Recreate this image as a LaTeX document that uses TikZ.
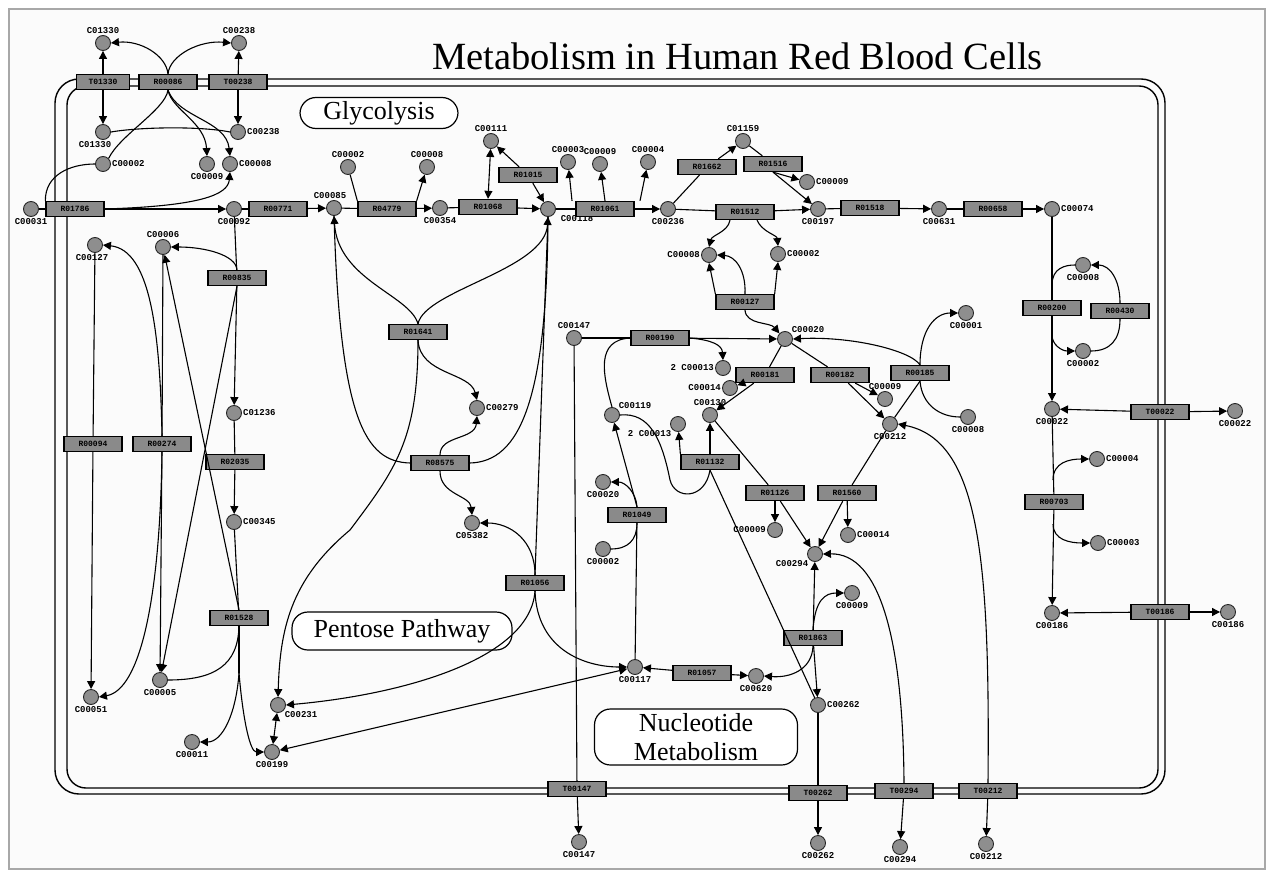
\documentclass[tikz,border=0pt]{standalone}
\usepackage{fontspec}
\setmainfont{Liberation Serif}
\newfontfamily\monof{Liberation Mono}
\usetikzlibrary{arrows.meta}
\definecolor{nodegray}{HTML}{8E8E8E}
\definecolor{boxgray}{HTML}{8A8A8A}
\definecolor{bgc}{HTML}{FBFBFB}
\definecolor{framegray}{HTML}{A8A8A8}
\begin{document}
\begin{tikzpicture}[x=1pt,y=-1pt,
 cpd/.style={circle,draw=black!85,fill=nodegray,minimum size=15pt,inner sep=0pt,line width=0.9pt},
 rxn/.style={rectangle,draw=black,fill=boxgray,minimum width=58pt,minimum height=15pt,inner sep=0pt,line width=1.3pt,font=\monof\bfseries\fontsize{8}{8}\selectfont},
 lbl/.style={font=\monof\bfseries\fontsize{9}{9}\selectfont,inner sep=1pt},
 every label/.style={lbl},
 conn/.style={line width=1.1pt},
 ar/.style={conn,-{Triangle[length=8pt,width=8pt]}},
 dar/.style={conn,{Triangle[length=8pt,width=8pt]}-{Triangle[length=8pt,width=8pt]}},
 region/.style={draw,rounded corners=16pt,line width=1.2pt,fill=white,font=\fontsize{26}{29}\selectfont,align=center,inner sep=0pt}
]
\useasboundingbox (0,0) rectangle (1273,877);
\fill[white] (0,0) rectangle (1273,877);
\draw[framegray,fill=bgc,line width=1.5pt] (9,9) rectangle (1265,869);
% membrane
\draw[line width=1.4pt,rounded corners=24pt] (55,79) rectangle (1165,794);
\draw[line width=1.4pt,rounded corners=19pt] (67,86) rectangle (1158,788);
% title and regions
\node[anchor=base,font=\fontsize{38.5}{40}\selectfont] (title) at (737.5,70) {Metabolism in Human Red Blood Cells};
\node[region,minimum width=158pt,minimum height=31pt] (rgly) at (379,113) {Glycolysis};
\node[region,minimum width=220pt,minimum height=38pt] (rppp) at (402,631) {Pentose Pathway};
\node[region,minimum width=203pt,minimum height=56pt] (rnuc) at (696,737) {Nucleotide\\Metabolism};
% compounds
\node[cpd,label=above:C01330] (nao) at (103,43) {};
\node[cpd,label=above:C00238] (ko) at (239,43) {};
\node[cpd,label={[xshift=-8pt]below:C01330}] (nai) at (103,132) {};
\node[cpd,label=right:C00238] (ki) at (238,132) {};
\node[cpd,label=right:C00002] (atp1) at (103,164) {};
\node[cpd,label=below:C00009] (pi1) at (207,164) {};
\node[cpd,label=right:C00008] (adp1) at (230,164) {};
\node[cpd,label=below:C00031] (glco) at (31,209) {};
\node[cpd,label=below:C00092] (g6p) at (234,209) {};
\node[cpd,label={[xshift=-4pt]above:C00085}] (f6p) at (334,208) {};
\node[cpd,label=above:C00002] (atp2) at (348,167) {};
\node[cpd,label=above:C00008] (adp2) at (427,167) {};
\node[cpd,label=below:C00354] (fbp) at (440,208) {};
\node[cpd,label=above:C00111] (dhap) at (491,141) {};
\node[cpd,label={[xshift=6pt]below right:C00118}] (gap) at (548,209) {};
\node[cpd,label=above:C00003] (nad) at (568,162) {};
\node[cpd,label=above:C00009] (pia) at (600,164) {};
\node[cpd,label=above:C00004] (nadh) at (648,162) {};
\node[cpd,label=below:C00236] (bpg) at (668,209) {};
\node[cpd,label=above:C01159] (bpg23) at (743,141) {};
\node[cpd,label=right:C00009] (pib) at (807,182) {};
\node[cpd,label=below:C00197] (pg3) at (818,209) {};
\node[cpd,label=left:C00008] (adp3) at (709,255) {};
\node[cpd,label=right:C00002] (atp3) at (778,254) {};
\node[cpd,label=below:C00631] (pg2) at (939,209) {};
\node[cpd,label=right:C00074] (pep) at (1052,209) {};
\node[cpd,label=below:C00008] (pkc1) at (1083,265) {};
\node[cpd,label=below:C00002] (pkc2) at (1083,351) {};
\node[cpd,label=below:C00022] (pyr) at (1052,409) {};
\node[cpd,label=below:C00022] (pyro) at (1235,411) {};
\node[cpd,label=right:C00004] (nadh2) at (1097,459) {};
\node[cpd,label=right:C00003] (nad2) at (1098,543) {};
\node[cpd,label=below:C00186] (lac) at (1052,613) {};
\node[cpd,label=below:C00186] (laco) at (1228,612) {};
\node[cpd,label={[xshift=-3pt]below:C00127}] (gssg) at (95,245) {};
\node[cpd,label=above:C00006] (nadp) at (163,247) {};
\node[cpd,label=right:C01236] (pgl6) at (234,413) {};
\node[cpd,label=right:C00345] (pg6) at (234,522) {};
\node[cpd,label=below:C00051] (gsh) at (91,697) {};
\node[cpd,label=below:C00005] (nadph) at (160,680) {};
\node[cpd,label=below:C00011] (co2) at (192,742) {};
\node[cpd,label=below:C00199] (ru5p) at (272,752) {};
\node[cpd,label=below right:C00231] (x5p) at (278,705) {};
\node[cpd,label=right:C00279] (e4p) at (477,408) {};
\node[cpd,label=below:C05382] (s7p) at (472,523) {};
\node[cpd,label=above:C00147] (ade) at (574,338) {};
\node[cpd,label=left:2 C00013] (ppi2) at (723,368) {};
\node[cpd,label=above right:C00020] (amp) at (785,339) {};
\node[cpd,label=left:C00014] (nh3) at (730,388) {};
\node[cpd,label=above:C00130] (imp) at (710,415) {};
\node[cpd,label=above:C00009] (pi2) at (885,399) {};
\node[cpd,label=below:C00212] (ado) at (890,424) {};
\node[cpd,label=below:C00001] (c66) at (966,313) {};
\node[cpd,label=below:C00008] (c67) at (968,417) {};
\node[cpd,label=above right:C00119] (prpp) at (612,415) {};
\node[cpd,label=below left:2 C00013] (ppi) at (678,424) {};
\node[cpd,label=below:C00020] (amp2) at (603,482) {};
\node[cpd,label=below:C00002] (atp4) at (603,549) {};
\node[cpd,label=below:C00117] (r5p) at (635,667) {};
\node[cpd,label=below:C00620] (r1p) at (756,676) {};
\node[cpd,label=below:C00009] (pi3) at (852,593) {};
\node[cpd,label=below left:C00294] (ino) at (815,554) {};
\node[cpd,label=right:C00262] (hx) at (818,705) {};
\node[cpd,label=left:C00009] (pi4) at (775,530) {};
\node[cpd,label=right:C00014] (nh3b) at (848,535) {};
\node[cpd,label=below:C00147] (adeo) at (579,842) {};
\node[cpd,label=below:C00262] (hxo) at (818,843) {};
\node[cpd,label=below:C00294] (inoo) at (900,847) {};
\node[cpd,label=below:C00212] (adoo) at (986,844) {};
% reactions
\node[rxn,minimum width=53pt] (bna) at (103,82) {T01330};
\node[rxn] (batp) at (168,82) {R00086};
\node[rxn] (bk) at (238,82) {T00238};
\node[rxn] (bhk) at (75,209) {R01786};
\node[rxn] (bpgi) at (278,209) {R00771};
\node[rxn] (bpfk) at (387,209) {R04779};
\node[rxn] (bald) at (488,207) {R01068};
\node[rxn] (btpi) at (528,175) {R01015};
\node[rxn] (bgapdh) at (605,209) {R01061};
\node[rxn] (bbpgm) at (707,167) {R01662};
\node[rxn] (bbpgp) at (773,164) {R01516};
\node[rxn] (bpgk) at (745,212) {R01512};
\node[rxn] (bak) at (745,302) {R00127};
\node[rxn] (bpgm) at (870,208) {R01518};
\node[rxn] (beno) at (993,209) {R00658};
\node[rxn] (bpk) at (1052,308) {R00200};
\node[rxn] (bpk2) at (1120,311) {R00430};
\node[rxn] (bpyrt) at (1160,412) {T00022};
\node[rxn] (bldh) at (1054,502) {R00703};
\node[rxn] (blact) at (1160,612) {T00186};
\node[rxn] (bg6pd) at (237,278) {R00835};
\node[rxn] (bpgl) at (235,462) {R02035};
\node[rxn] (b6pgd) at (239,618) {R01528};
\node[rxn] (bgr) at (93,444) {R00094};
\node[rxn] (bgpx) at (162,444) {R00274};
\node[rxn] (btk) at (418,332) {R01641};
\node[rxn] (bta) at (440,463) {R08575};
\node[rxn] (brpi) at (535,583) {R01056};
\node[rxn] (bprps) at (637,515) {R01049};
\node[rxn] (bppm) at (702,673) {R01057};
\node[rxn] (bpnp) at (813,638) {R01863};
\node[rxn] (bhgprt) at (710,462) {R01132};
\node[rxn] (baprt) at (660,338) {R00190};
\node[rxn] (bampd) at (765,375) {R00181};
\node[rxn] (bampn) at (840,375) {R00182};
\node[rxn] (bak2) at (920,373) {R00185};
\node[rxn] (bada) at (847,493) {R01560};
\node[rxn] (bimpn) at (775,493) {R01126};
\node[rxn] (badet) at (577,789) {T00147};
\node[rxn] (bhxt) at (818,793) {T00262};
\node[rxn] (binot) at (904,791) {T00294};
\node[rxn] (badot) at (988,791) {T00212};
% --- connectors: Na/K ATPase
\draw[ar] (bna) -- (nao);
\draw[ar] (bna) -- (nai);
\draw[ar] (bk) -- (ko);
\draw[ar] (bk) -- (ki);
\draw[ar] (batp.north) .. controls (166,55) and (140,40) .. (nao.east);
\draw[ar] (batp.north) .. controls (170,55) and (200,40) .. (ko.west);
\draw[ar] (batp.south) .. controls (172,110) and (205,122) .. (pi1.north);
\draw[ar] (batp.south) .. controls (178,118) and (226,120) .. (adp1.north);
\draw[conn] (nai.east) .. controls (140,127) and (200,126) .. (ki.west);
\draw[conn] (batp.south) .. controls (165,110) and (120,135) .. (atp1.north east);
% hexokinase
\draw[conn] (glco) -- (bhk);
\draw[ar] (bhk) -- (g6p);
\draw[conn] (bhk.north west) .. controls (45,175) and (70,164) .. (atp1.west);
\draw[ar] (bhk.east) .. controls (200,206) and (228,195) .. (adp1.south);
% glycolysis
\draw[conn] (g6p) -- (bpgi); \draw[ar] (bpgi) -- (f6p);
\draw[conn] (f6p) -- (bpfk); \draw[ar] (bpfk) -- (fbp);
\draw[conn] (atp2) -- (bpfk.north west);
\draw[ar] (bpfk.north east) -- (adp2);
\draw[conn] (fbp) -- (bald); \draw[ar] (bald) -- (gap);
\draw[dar] (bald.north) -- (dhap);
\draw[ar] (btpi) -- (dhap); \draw[ar] (btpi) -- (gap);
\draw[conn] (gap) -- (bgapdh); \draw[ar] (bgapdh) -- (bpg);
\draw[ar] ([xshift=-33pt]bgapdh.north) -- (nad);
\draw[ar] (bgapdh.north) -- (pia);
\draw[ar] ([xshift=35pt]bgapdh.north) -- (nadh);
\draw[conn] (bpg) -- (bpgk); \draw[ar] (bpgk) -- (pg3);
\draw[conn] (bpg) -- (bbpgm); \draw[ar] (bbpgm) -- (bpg23);
\draw[conn] (bpg23) -- (bbpgp);
\draw[ar] (bbpgp.south) -- (pg3);
\draw[ar] (bbpgp.south) -- (pib);
\draw[ar] ([xshift=-15pt]bpgk.south) .. controls (728,232) and (712,235) .. (adp3.north);
\draw[ar] ([xshift=12pt]bpgk.south) .. controls (762,232) and (777,235) .. (atp3.north);
\draw[ar] (bak.north west) -- (adp3.south);
\draw[ar] (bak.north east) -- (atp3.south);
\draw[ar] (bak.north) .. controls (746,270) and (735,256) .. (adp3.east);
\draw[ar] (bak.south) .. controls (746,325) and (770,322) .. (amp.north west);
\draw[conn] (pg3) -- (bpgm); \draw[ar] (bpgm) -- (pg2);
\draw[conn] (pg2) -- (beno); \draw[ar] (beno) -- (pep);
\draw[conn] (pep) -- (bpk); \draw[ar] (bpk) -- (pyr);
\coordinate (pka) at (1052,285);
\coordinate (pkb) at (1052,335);
\draw[conn] (pka) .. controls (1052,268) and (1065,265) .. (pkc1.west);
\draw[ar] (bpk2.north) .. controls (1120,280) and (1110,265) .. (pkc1.east);
\draw[ar] (pkb) .. controls (1052,345) and (1062,351) .. (pkc2.west);
\draw[conn] (bpk2.south) .. controls (1120,340) and (1110,351) .. (pkc2.east);
\draw[ar] (bpyrt) -- (pyr); \draw[ar] (bpyrt) -- (pyro);
\draw[conn] (pyr) -- (bldh); \draw[ar] (bldh) -- (lac);
\coordinate (la) at (1053,480);
\coordinate (lb) at (1053,524);
\draw[ar] (la) .. controls (1053,462) and (1070,459) .. (nadh2.west);
\draw[ar] (lb) .. controls (1053,540) and (1070,543) .. (nad2.west);
\draw[ar] (blact) -- (lac); \draw[ar] (blact) -- (laco);
% pentose phosphate, oxidative
\draw[conn] (g6p) -- (bg6pd); \draw[ar] (bg6pd) -- (pgl6);
\draw[conn] (pgl6) -- (bpgl); \draw[ar] (bpgl) -- (pg6);
\draw[conn] (pg6) -- (b6pgd);
\coordinate (pgd) at (239,673);
\draw[conn] (b6pgd) -- (pgd);
\draw[ar] (pgd) .. controls (236,715) and (222,742) .. (co2.east);
\draw[ar] (pgd) .. controls (243,720) and (250,752) .. (ru5p.west);
\draw[conn] (nadph.east) .. controls (215,680) and (238,665) .. (b6pgd.south);
\draw[ar] (bg6pd.north) .. controls (236,255) and (205,247) .. (nadp.east);
\draw[ar] (bg6pd.south) -- (nadph);
\draw[ar] (b6pgd.north) -- (nadp);
\draw[conn] (nadp) -- (bgpx); \draw[ar] (bgpx) -- (nadph);
\draw[ar] (bgpx.north) .. controls (160,330) and (150,250) .. (gssg.east);
\draw[ar] (bgpx.south) .. controls (160,600) and (140,690) .. (gsh.east);
\draw[conn] (gssg) -- (bgr); \draw[ar] (bgr) -- (gsh);
% pentose phosphate, non-oxidative
\draw[dar] (x5p) -- (ru5p);
\draw[dar] (ru5p) -- (r5p);
\draw[ar] (btk.north) .. controls (410,295) and (338,280) .. (f6p.south);
\draw[ar] (btk.north) .. controls (425,290) and (545,270) .. (gap.south);
\draw[conn] (f6p.south) .. controls (340,420) and (365,462) .. (bta.west);
\draw[conn] (gap.south) .. controls (547,400) and (520,462) .. (bta.east);
\draw[conn] (gap.south) -- (brpi.north);
\draw[ar] (btk.south) .. controls (420,375) and (470,372) .. (e4p.north);
\draw[ar] (btk.south) .. controls (418,440) and (395,470) .. (350,530) .. controls (290,580) and (280,630) .. (x5p.north);
\draw[ar] (bta.north) .. controls (440,435) and (475,440) .. (e4p.south);
\draw[ar] (bta.south) .. controls (440,495) and (470,495) .. (s7p.north);
\draw[ar] (brpi.north) .. controls (535,540) and (510,523) .. (s7p.east);
\draw[ar] (brpi.south) .. controls (537,650) and (585,667) .. (r5p.west);
\draw[ar] (brpi.south) .. controls (530,660) and (400,695) .. (x5p.east);
% nucleotide metabolism
\draw[conn] (r5p) -- (bprps);
\draw[ar] (bprps.north) -- (prpp);
\draw[ar] (bprps.north) .. controls (636,492) and (625,482) .. (amp2.east);
\draw[conn] (atp4.east) .. controls (628,549) and (637,540) .. (bprps.south);
\draw[ar] (bppm) -- (r5p); \draw[ar] (bppm) -- (r1p);
\draw[ar] (bpnp.south) .. controls (812,670) and (790,678) .. (r1p.east);
\draw[ar] (bpnp.north) .. controls (815,600) and (825,593) .. (pi3.west);
\draw[ar] (bpnp) -- (ino);
\draw[ar] (bpnp) -- (hx);
\draw[conn] (bhgprt.south) -- (hx);
\draw[conn] (hx) -- (bhxt); \draw[ar] (bhxt) -- (hxo);
\draw[ar] (bhgprt) -- (imp);
\draw[ar] (bhgprt.north west) -- (ppi);
\draw[conn] (prpp.east) .. controls (650,412) and (662,440) .. (670,480) .. controls (675,500) and (705,500) .. (bhgprt.south);
\draw[conn] (prpp.north) .. controls (603,375) and (595,340) .. (baprt.west);
\draw[conn] (ade) -- (baprt);
\draw[ar] (baprt) -- (amp);
\draw[ar] (baprt.east) .. controls (712,340) and (722,345) .. (ppi2.north);
\draw[conn] (ade) -- (badet); \draw[ar] (badet) -- (adeo);
\draw[conn] (amp) -- (bampd); \draw[ar] (bampd) -- (imp); \draw[ar] (bampd) -- (nh3);
\draw[conn] (amp) -- (bampn); \draw[ar] (bampn) -- (ado); \draw[ar] (bampn) -- (pi2);
\draw[ar] (bak2.north) .. controls (910,350) and (850,336) .. (amp.east);
\draw[ar] (bak2.north) .. controls (920,330) and (935,313) .. (c66.west);
\draw[conn] (bak2.south) .. controls (922,405) and (940,417) .. (c67.west);
\draw[conn] (bak2.south) -- (ado);
\draw[ar] (badot.north) .. controls (990,560) and (980,440) .. (ado.east);
\draw[ar] (badot) -- (adoo);
\draw[conn] (ado) -- (bada); \draw[ar] (bada) -- (ino); \draw[ar] (bada) -- (nh3b);
\draw[conn] (imp) -- (bimpn); \draw[ar] (bimpn) -- (ino); \draw[ar] (bimpn) -- (pi4);
\draw[ar] (binot.north) .. controls (903,640) and (880,553) .. (ino.east);
\draw[ar] (binot) -- (inoo);
\end{tikzpicture}
\end{document}
